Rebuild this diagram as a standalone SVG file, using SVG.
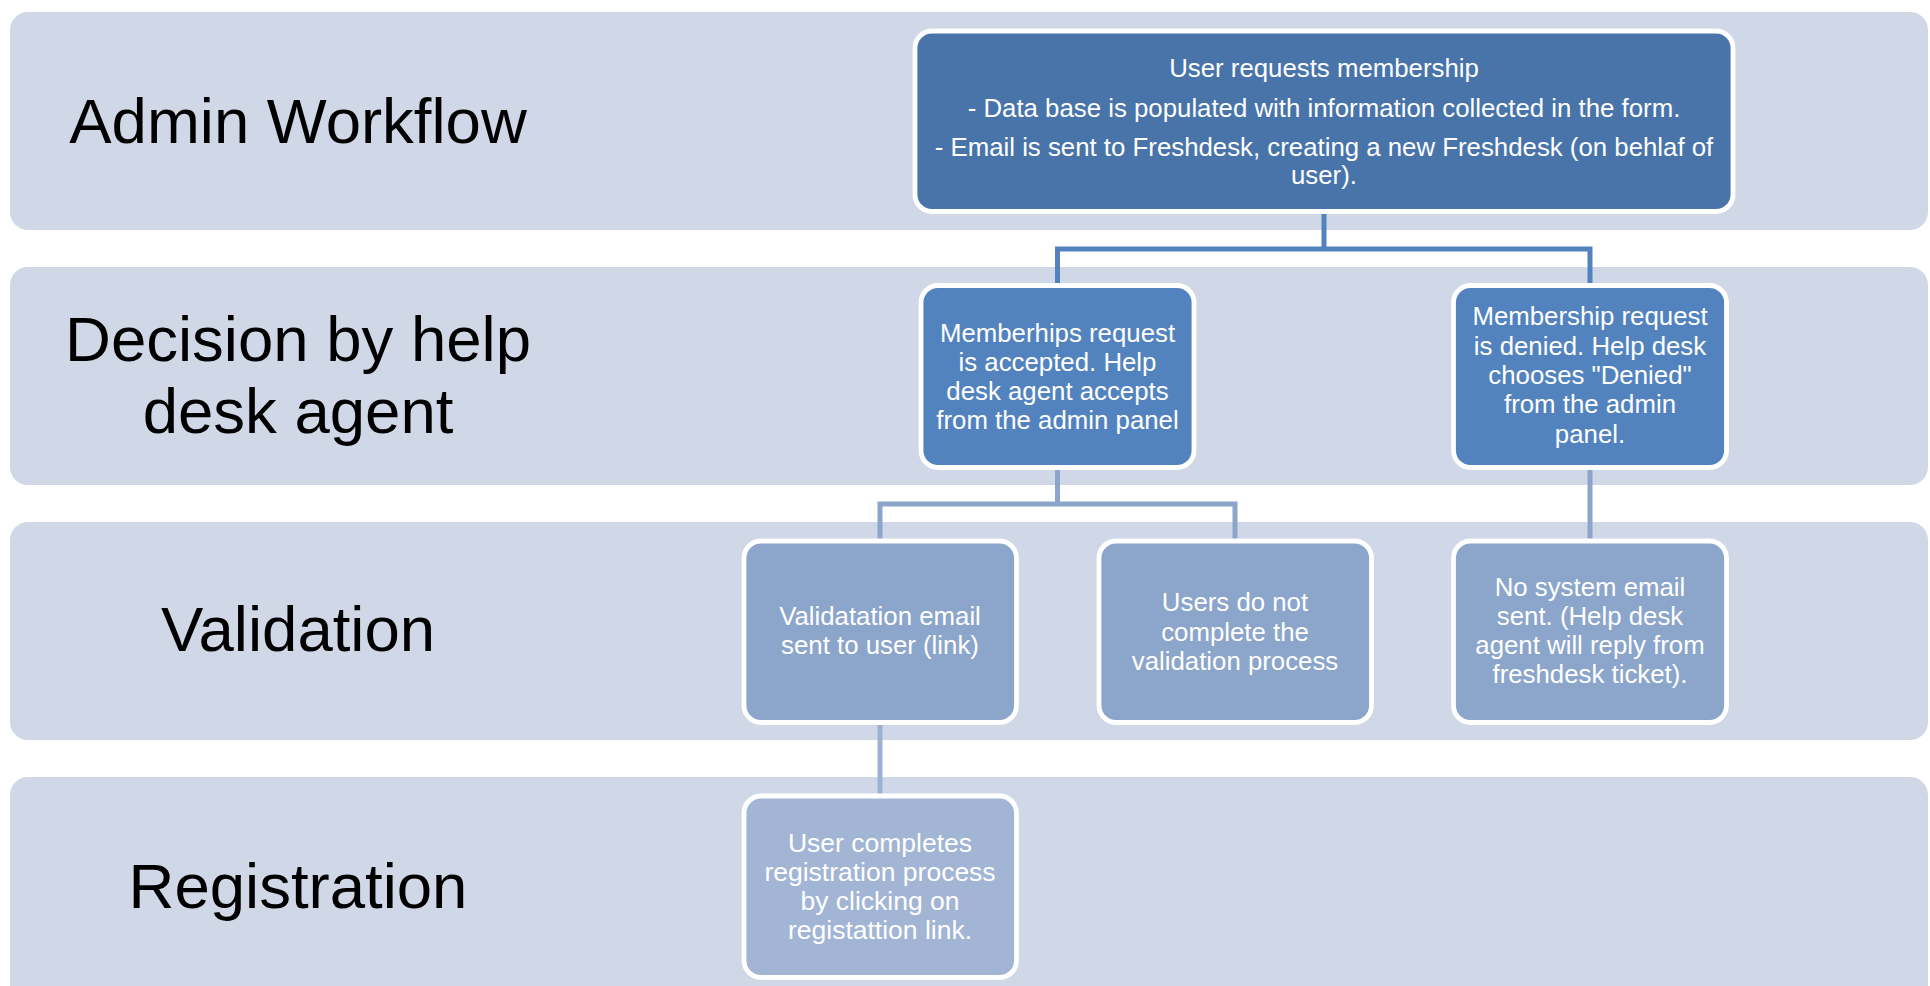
<svg xmlns="http://www.w3.org/2000/svg" width="1930" height="986" viewBox="0 0 1930 986">
<style>
.band{fill:#D0D7E6;}
.lbl{font-family:"Liberation Sans",Arial,sans-serif;font-size:63.5px;fill:#000;text-anchor:middle;}
.node{stroke:#FFFFFF;stroke-width:4.8;}
.l1{fill:#4874AA;}
.l2{fill:#5283BE;}
.l3{fill:#8BA5CB;}
.l4{fill:#A2B5D5;}
.t{font-family:"Liberation Sans",Arial,sans-serif;font-size:25.8px;fill:#FFFFFF;text-anchor:middle;}
.t4{font-size:26.5px;}
.conn{fill:none;stroke-width:5;stroke-linejoin:miter;}
</style>
<rect width="1930" height="986" fill="#FFFFFF"/>
<g id="bands">
<rect class="band" x="10" y="12" width="1918" height="218" rx="18"/>
<rect class="band" x="10" y="267" width="1918" height="218" rx="18"/>
<rect class="band" x="10" y="522" width="1918" height="218" rx="18"/>
<rect class="band" x="10" y="777" width="1918" height="240" rx="18"/>
</g>
<g id="lane-labels">
<text class="lbl" x="298" y="143">Admin Workflow</text>
<text class="lbl" x="298" y="361">Decision by help</text>
<text class="lbl" x="298" y="433">desk agent</text>
<text class="lbl" x="298" y="651">Validation</text>
<text class="lbl" x="298" y="908">Registration</text>
</g>
<g id="connectors">
<path class="conn" stroke="#5283BE" d="M1324,212 V249 M1057.5,284 V249 H1590 V284"/>
<path class="conn" stroke="#8BA5CB" d="M1057.5,469 V504 M880,539 V504 H1235 V539"/>
<path class="conn" stroke="#8BA5CB" d="M1590,469 V539"/>
<path class="conn" stroke="#9DB1D3" d="M880,724 V794"/>
</g>
<g id="node-request">
<rect class="node l1" x="915" y="31" width="818" height="180.5" rx="17"/>
<text class="t" x="1324" y="76.5">User requests membership</text>
<text class="t" x="1324" y="116.5">- Data base is populated with information collected in the form.</text>
<text class="t" x="1324" y="156">- Email is sent to Freshdesk, creating a new Freshdesk (on behlaf of</text>
<text class="t" x="1324" y="183.5">user).</text>
</g>
<g id="node-accepted">
<rect class="node l2" x="921" y="285.5" width="273" height="182" rx="17"/>
<text class="t" x="1057.5" y="342">Memberhips request</text>
<text class="t" x="1057.5" y="371">is accepted. Help</text>
<text class="t" x="1057.5" y="400">desk agent accepts</text>
<text class="t" x="1057.5" y="428.5">from the admin panel</text>
</g>
<g id="node-denied">
<rect class="node l2" x="1453.5" y="285.5" width="273" height="182" rx="17"/>
<text class="t" x="1590" y="325">Membership request</text>
<text class="t" x="1590" y="354.5">is denied. Help desk</text>
<text class="t" x="1590" y="384">chooses "Denied"</text>
<text class="t" x="1590" y="413">from the admin</text>
<text class="t" x="1590" y="442.5">panel.</text>
</g>
<g id="node-validation-email">
<rect class="node l3" x="744" y="541" width="272.5" height="181.5" rx="17"/>
<text class="t" x="880" y="625">Validatation email</text>
<text class="t" x="880" y="654">sent to user (link)</text>
</g>
<g id="node-not-complete">
<rect class="node l3" x="1099" y="541" width="272.5" height="181.5" rx="17"/>
<text class="t" x="1235" y="611">Users do not</text>
<text class="t" x="1235" y="640.5">complete the</text>
<text class="t" x="1235" y="670">validation process</text>
</g>
<g id="node-no-email">
<rect class="node l3" x="1453.5" y="541" width="273" height="181.5" rx="17"/>
<text class="t" x="1590" y="596">No system email</text>
<text class="t" x="1590" y="625">sent. (Help desk</text>
<text class="t" x="1590" y="654">agent will reply from</text>
<text class="t" x="1590" y="683">freshdesk ticket).</text>
</g>
<g id="node-registration">
<rect class="node l4" x="744" y="796" width="272.5" height="181.5" rx="17"/>
<text class="t t4" x="880" y="851.5">User completes</text>
<text class="t t4" x="880" y="881">registration process</text>
<text class="t t4" x="880" y="910">by clicking on</text>
<text class="t t4" x="880" y="938.5">registattion link.</text>
</g>
</svg>
